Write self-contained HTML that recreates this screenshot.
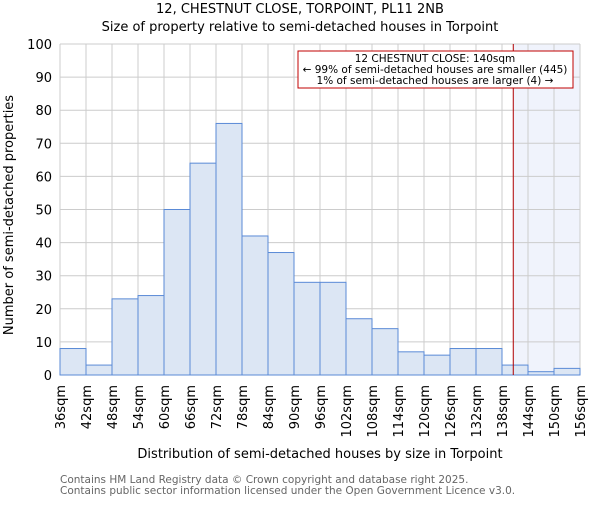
<!DOCTYPE html>
<html><head><meta charset="utf-8"><style>body{margin:0;background:#fff}svg{font-family:"DejaVu Sans","Liberation Sans",sans-serif}</style></head>
<body>
<svg id="c" width="600" height="500"></svg>
<script>
const binStarts=[36,42,48,54,60,66,72,78,84,90,96,102,108,114,120,126,132,138,144,150];
const counts=[8,3,23,24,50,64,76,42,37,28,28,17,14,7,6,8,8,3,1,2];
const xTicks=[36,42,48,54,60,66,72,78,84,90,96,102,108,114,120,126,132,138,144,150,156];
const yTicks=[0,10,20,30,40,50,60,70,80,90,100];
const subject=140.6;
const NS="http://www.w3.org/2000/svg",svg=document.getElementById('c');
const L=60,R=580,T=44,B=375;
const xs=v=>L+(v-36)/120*(R-L), ys=v=>B-v/100*(B-T);
function mk(t,a,p){const e=document.createElementNS(NS,t);for(const k in a)e.setAttribute(k,a[k]);(p||svg).appendChild(e);return e;}
let e;
e=mk('rect',{x:xs(subject),y:T,width:R-xs(subject),height:B-T,fill:'#f0f3fc'});


xTicks.forEach(v=>{e=mk('line',{x1:xs(v),x2:xs(v),y1:T,y2:B,stroke:'#ccc'});

});
yTicks.forEach(v=>{e=mk('line',{x1:L,x2:R,y1:ys(v),y2:ys(v),stroke:'#ccc'});


e=mk('text',{x:L-8,y:ys(v)+5,'text-anchor':'end','font-size':13});e.textContent=v;

});
counts.forEach((c,i)=>{e=mk('rect',{x:xs(binStarts[i]),y:ys(c),width:xs(binStarts[i]+6)-xs(binStarts[i]),height:B-ys(c),fill:'#dce6f4',stroke:'#5a8ad6','stroke-width':1});

});
xTicks.forEach(v=>{const x=xs(v)+5;e=mk('text',{x:x,y:385,'text-anchor':'end','font-size':13,transform:`rotate(-90 ${x} 385)`});e.textContent=v+'sqm';

});
e=mk('line',{x1:xs(subject),x2:xs(subject),y1:T,y2:B,stroke:'#b00000','stroke-width':1});


e=mk('rect',{x:298,y:51,width:275,height:37,fill:'#fff',stroke:'#c00000'});


[['12 CHESTNUT CLOSE: 140sqm',62],['← 99% of semi-detached houses are smaller (445)',73],['1% of semi-detached houses are larger (4) →',84]].forEach(([t,y])=>{e=mk('text',{x:435,y:y,'text-anchor':'middle','font-size':10.5});e.textContent=t;

});
[['12, CHESTNUT CLOSE, TORPOINT, PL11 2NB',13,'chart-title'],['Size of property relative to semi-detached houses in Torpoint',31,'chart-subtitle']].forEach(([t,y,n])=>{e=mk('text',{x:300,y:y,'text-anchor':'middle','font-size':13});e.textContent=t;

});
e=mk('text',{x:320,y:458,'text-anchor':'middle','font-size':13});e.textContent='Distribution of semi-detached houses by size in Torpoint';


e=mk('text',{x:13,y:215,'text-anchor':'middle','font-size':13,transform:'rotate(-90 13 215)'});e.textContent='Number of semi-detached properties';


[['Contains HM Land Registry data © Crown copyright and database right 2025.',483],['Contains public sector information licensed under the Open Government Licence v3.0.',494]].forEach(([t,y])=>{e=mk('text',{x:60,y:y,'font-size':10.5,fill:'#666'});e.textContent=t;

});
</script>
</body></html>
